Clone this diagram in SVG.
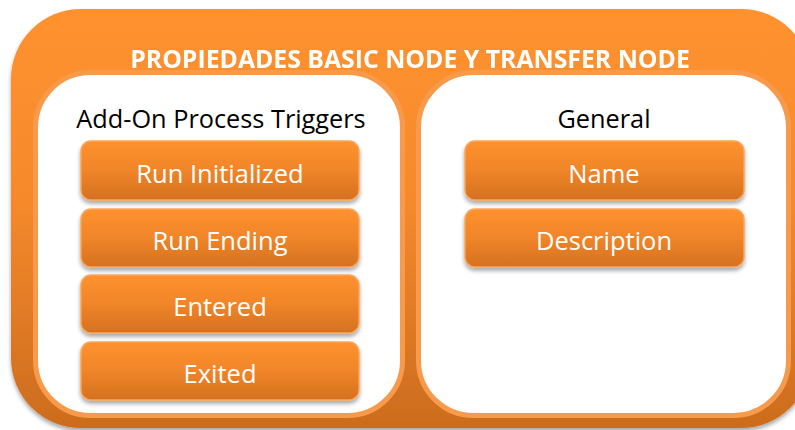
<svg xmlns="http://www.w3.org/2000/svg" width="795" height="430" viewBox="0 0 795 430">
  <defs>
    <linearGradient id="gOuter" x1="0" y1="0" x2="0" y2="1">
      <stop offset="0" stop-color="#FF922E"/>
      <stop offset="0.45" stop-color="#F68A2C"/>
      <stop offset="1" stop-color="#CC6C1E"/>
    </linearGradient>
    <linearGradient id="gBox" x1="0" y1="0" x2="0" y2="1">
      <stop offset="0" stop-color="#FF922E"/>
      <stop offset="0.5" stop-color="#F08529"/>
      <stop offset="1" stop-color="#D4711F"/>
    </linearGradient>
    <filter id="shadow" x="-10%" y="-10%" width="120%" height="130%">
      <feGaussianBlur in="SourceAlpha" stdDeviation="2"/>
      <feOffset dx="0" dy="3" result="b"/>
      <feComponentTransfer><feFuncA type="linear" slope="0.35"/></feComponentTransfer>
      <feMerge><feMergeNode/><feMergeNode in="SourceGraphic"/></feMerge>
    </filter>
  </defs>
  <style>
    .panel { fill: #FFFFFF; stroke: #F89A4C; stroke-width: 5; }
    .box { fill: url(#gBox); stroke: #F9A65C; stroke-width: 1.5; filter: url(#shadow); }
    .title { font-family: "Open Sans", "Liberation Sans", sans-serif; font-weight: bold; font-size: 24.8px; fill: #FFFFFF; text-anchor: middle; }
    .head { font-family: "Open Sans", "Liberation Sans", sans-serif; font-size: 25.3px; fill: #000000; text-anchor: middle; }
    .lbl { font-family: "Open Sans", "Liberation Sans", sans-serif; font-size: 25.5px; fill: #FFFFFF; text-anchor: middle; }
  </style>

  <!-- outer container -->
  <g id="container" filter="url(#shadow)">
    <rect x="11" y="9" width="800" height="419" rx="70" ry="70" fill="url(#gOuter)"/>
    <text class="title" x="410" y="68">PROPIEDADES BASIC NODE Y TRANSFER NODE</text>
  </g>

  <!-- left panel: add-on process triggers -->
  <g id="triggers">
    <rect class="panel" x="35.5" y="72.5" width="367" height="343" rx="55" ry="55"/>
    <text class="head" x="221" y="128">Add-On Process Triggers</text>
  </g>
  <g id="run-initialized">
    <rect class="box" x="81" y="141" width="278" height="59" rx="10" ry="10"/>
    <text class="lbl" x="220" y="183">Run Initialized</text>
  </g>
  <g id="run-ending">
    <rect class="box" x="81" y="209" width="278" height="58" rx="10" ry="10"/>
    <text class="lbl" x="220" y="250">Run Ending</text>
  </g>
  <g id="entered">
    <rect class="box" x="81" y="275" width="278" height="58" rx="10" ry="10"/>
    <text class="lbl" x="220" y="316">Entered</text>
  </g>
  <g id="exited">
    <rect class="box" x="81" y="342" width="278" height="58" rx="10" ry="10"/>
    <text class="lbl" x="220" y="383">Exited</text>
  </g>

  <!-- right panel: general -->
  <g id="general">
    <rect class="panel" x="418.5" y="72.5" width="370" height="343" rx="55" ry="55"/>
    <text class="head" x="604" y="128">General</text>
  </g>
  <g id="name">
    <rect class="box" x="465" y="141" width="279" height="59" rx="10" ry="10"/>
    <text class="lbl" x="604" y="183">Name</text>
  </g>
  <g id="description">
    <rect class="box" x="465" y="209" width="279" height="58" rx="10" ry="10"/>
    <text class="lbl" x="604" y="250">Description</text>
  </g>

  <g id="connectors"/>
</svg>
